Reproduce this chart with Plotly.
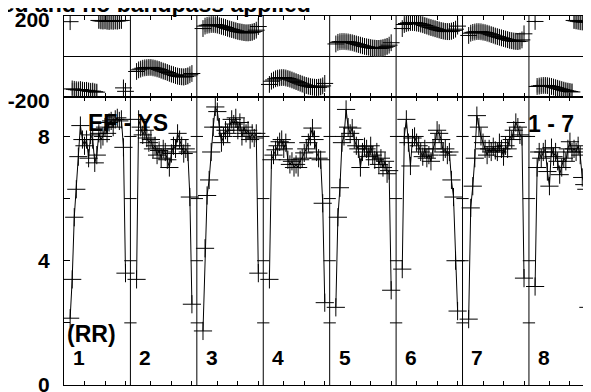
import plotly.graph_objects as go
from plotly.subplots import make_subplots

# ---------------- data ----------------
CHANNELS = list(range(3, 31))          # 28 channels per IF panel
PANEL_W = 32.4                         # channel span of one panel on the shared axis
PANEL_LABELS = ["1", "2", "3", "4", "5", "6", "7", "8"]

AMP_1 = [2.15, 3.4, 5.4, 6.3, 7.35, 8.35, 7.9, 7.7, 7.9, 7.3, 8.05, 7.9, 7.15, 7.4,
         8.1, 7.9, 8.0, 8.3, 8.1, 8.45, 8.5, 8.3, 8.55, 8.6, 8.5, 8.55, 7.65, 3.6]
AMP_2 = [3.4, 8.55, 8.3, 8.05, 8.2, 7.95, 7.8, 7.9, 7.6, 7.7, 7.4, 7.55, 7.3, 7.6,
         7.5, 7.25, 7.0, 7.45, 7.7, 7.6, 8.1, 7.9, 7.7, 7.45, 7.6, 7.5, 6.05, 2.6]
AMP_3 = [1.74, 4.4, 6.1, 6.6, 7.5, 8.3, 8.95, 8.8, 8.3, 7.8, 8.0, 8.2, 8.1, 8.3,
         8.55, 8.4, 8.6, 8.2, 8.45, 8.0, 8.3, 8.1, 8.2, 7.9, 8.1, 7.95, 8.1, 3.6]
AMP_4 = [3.4, 7.25, 7.4, 7.57, 7.7, 7.83, 7.9, 7.6, 7.8, 7.25, 7.1, 7.2, 7.0, 7.1,
         7.0, 7.25, 7.3, 7.47, 7.6, 7.8, 8.0, 8.27, 7.9, 7.5, 7.3, 7.25, 5.85, 2.65]
AMP_5 = [2.5, 5.4, 6.35, 7.8, 8.0, 8.87, 8.3, 8.1, 8.27, 7.9, 7.7, 7.6, 7.0, 7.5,
         7.67, 7.6, 7.35, 7.7, 7.4, 7.25, 7.5, 7.1, 7.3, 7.0, 7.2, 6.8, 6.9, 3.05]
AMP_6 = [3.73, 8.0, 8.55, 7.8, 7.05, 7.95, 8.0, 7.8, 7.7, 7.5, 7.35, 7.6, 7.3, 7.4,
         7.2, 7.6, 7.8, 8.2, 8.1, 7.9, 7.5, 7.6, 7.4, 7.5, 6.6, 6.05, 4.0, 2.38]
AMP_7 = [2.12, 5.7, 6.4, 7.3, 8.67, 8.3, 8.0, 7.8, 7.6, 7.4, 7.6, 7.5, 7.67, 7.55,
         7.5, 7.8, 7.6, 7.35, 7.7, 7.6, 8.0, 7.9, 8.2, 8.45, 8.3, 8.05, 8.0, 3.44]
AMP_8 = [3.17, 7.0, 7.5, 7.3, 7.5, 7.6, 6.87, 6.4, 7.64, 7.35, 7.5, 7.2, 6.77, 7.0,
         7.3, 7.2, 7.6, 7.83, 7.5, 7.6, 7.5, 7.7, 7.4, 6.68, 6.45, 6.3, 2.5, None]

PHASE_1 = [172, -160, -162, -164, -165, -163, -166, -168, -167, -170, -172, -171, -174, -176,
           178, 176, 175, 176, 174, 173, 175, 174, 176, 175, 177, 178, -155, -172]
PHASE_2 = [-74, -66, -62, -58, -56, -55, -54, -54, -56, -58, -61, -64, -68, -72,
           -75, -79, -83, -87, -90, -94, -97, -99, -100, -101, -99, -96, -90, -84]
PHASE_3 = [138, 150, 154, 156, 158, 158, 157, 155, 152, 149, 146, 143, 139, 136,
           133, 130, 127, 124, 122, 120, 118, 117, 117, 118, 120, 124, 130, 148]
PHASE_4 = [-138, -122, -116, -110, -107, -105, -104, -104, -106, -109, -112, -116, -120, -124,
           -128, -132, -136, -140, -143, -146, -149, -151, -152, -153, -152, -150, -145, -133]
PHASE_5 = [62, 70, 73, 74, 74, 73, 72, 70, 68, 65, 62, 59, 56, 53,
           50, 48, 46, 44, 42, 41, 40, 40, 41, 43, 46, 50, 56, 68]
PHASE_6 = [138, 158, 163, 166, 168, 168, 167, 165, 163, 160, 157, 153, 150, 146,
           143, 140, 137, 134, 131, 128, 126, 124, 123, 123, 125, 129, 135, 150]
PHASE_7 = [104, 115, 119, 121, 123, 123, 122, 120, 118, 115, 112, 108, 105, 101,
           98, 95, 92, 89, 86, 83, 80, 78, 76, 75, 74, 76, 82, 112]
PHASE_8 = [173, -148, -146, -144, -143, -143, -144, -146, -148, -151, -154, -157, -160, -163,
           -166, -169, -171, -173, -175, 178, 176, 174, 172, 171, 170, 170, 171, 172]
PHASE_ERR = [6, 30, 32, 33, 34, 35, 35, 36, 36, 37, 37, 38, 38, 38,
             39, 39, 40, 40, 40, 41, 41, 41, 42, 42, 42, 40, 30, 8]

AMPS = [AMP_1, AMP_2, AMP_3, AMP_4, AMP_5, AMP_6, AMP_7, AMP_8]
PHASES = [PHASE_1, PHASE_2, PHASE_3, PHASE_4, PHASE_5, PHASE_6, PHASE_7, PHASE_8]

TITLE = "Calibrated and no bandpass applied"
BASELINE = "EF - YS"
TIMERANGE = "1 - 7"
POL = "(RR)"

# ---------------- figure ----------------
FONT = "Liberation Sans, Arial, Helvetica, sans-serif"
W, H = 583, 384          # page body has an 8px margin inside the 591x392 window
ML = 56
plot_w = W - ML
PX_PER_CH = 2.05
x_max = plot_w / PX_PER_CH

fig = make_subplots(rows=2, cols=1, shared_xaxes=False, vertical_spacing=0)

for p in range(len(AMPS)):
    xs = [p * PANEL_W + c for c in CHANNELS]
    fig.add_trace(go.Scatter(
        x=xs, y=PHASES[p], mode="markers",
        marker=dict(symbol="cross-thin", size=12, line=dict(color="black", width=1)),
        error_y=dict(type="data", array=PHASE_ERR, visible=True, color="#8a8a8a",
                     thickness=1, width=0),
        showlegend=False, hoverinfo="skip", cliponaxis=True), row=1, col=1)
    fig.add_trace(go.Scatter(
        x=xs, y=AMPS[p], mode="lines+markers",
        line=dict(color="black", width=1),
        marker=dict(symbol="cross-thin", size=13, line=dict(color="black", width=1)),
        showlegend=False, hoverinfo="skip", cliponaxis=True), row=2, col=1)

amp_bot = (H - 377) / H
mid = (H - 89) / H
ph_top = (H - 8) / H

tickvals_x = [p * PANEL_W + t for p in range(9) for t in (10, 20, 30)]
tickfont = dict(family=FONT, size=21, color="black", weight="bold")

xcommon = dict(range=[0, x_max], showgrid=False, zeroline=False, showline=True,
               linecolor="black", linewidth=1, mirror="ticks", ticks="inside",
               ticklen=4, tickcolor="black", tickvals=tickvals_x, showticklabels=False)
fig.update_xaxes(**xcommon, row=1, col=1)
fig.update_xaxes(**xcommon, row=2, col=1)

fig.update_yaxes(range=[-200, 200], domain=[mid, ph_top], showgrid=False,
                 zeroline=True, zerolinecolor="black", zerolinewidth=1,
                 showline=True, linecolor="black", linewidth=1, ticks="",
                 tickvals=[-200, 200], ticktext=["-200", "200"], tickfont=tickfont,
                 ticklabelstandoff=9, ticklabelshift=4, ticklabeloverflow="allow",
                 row=1, col=1)
fig.update_yaxes(range=[0, 9.27], domain=[amp_bot, mid], showgrid=False, zeroline=False,
                 showline=True, linecolor="black", linewidth=1, ticks="inside",
                 ticklen=6, tickcolor="black",
                 tickvals=[0, 2, 4, 6, 8], ticktext=["0", "", "4", "", "8"],
                 tickfont=tickfont, ticklabelstandoff=9, ticklabeloverflow="allow",
                 row=2, col=1)

shapes = []
for p in range(1, 9):
    xd = p * PANEL_W
    shapes.append(dict(type="line", xref="x2", yref="paper", x0=xd, x1=xd,
                       y0=amp_bot, y1=ph_top, line=dict(color="black", width=1)))
    for v in (2, 4, 6, 8):
        shapes.append(dict(type="line", xref="x2", yref="y2", x0=xd - 3, x1=xd + 3,
                           y0=v, y1=v, line=dict(color="black", width=1)))

lab_font = dict(family=FONT, size=23, color="black", weight="bold")
ann = []
ann.append(dict(text=TITLE, xref="paper", yref="paper", x=(305 - ML) / plot_w, y=1,
                xanchor="right", yanchor="middle", yshift=4, showarrow=False,
                font=dict(family=FONT, size=23, color="black", weight="bold")))
ann.append(dict(text=BASELINE, xref="x2", yref="y2", x=10.5, y=8.44,
                xanchor="left", yanchor="middle", showarrow=False, font=lab_font))
ann.append(dict(text=TIMERANGE, xref="x2", yref="y2", x=225.3, y=8.4,
                xanchor="left", yanchor="middle", showarrow=False, font=lab_font))
ann.append(dict(text=POL, xref="x2", yref="y2", x=0.6, y=1.64,
                xanchor="left", yanchor="middle", showarrow=False, font=lab_font))
for p, lab in enumerate(PANEL_LABELS):
    ann.append(dict(text=lab, xref="x2", yref="y2", x=p * PANEL_W + 7.3, y=0.9,
                    xanchor="center", yanchor="middle", showarrow=False,
                    font=dict(family=FONT, size=21, color="black", weight="bold")))

fig.update_layout(width=W, height=H, margin=dict(l=ML, r=0, t=0, b=0, autoexpand=False),
                  paper_bgcolor="white", plot_bgcolor="white",
                  shapes=shapes, annotations=ann, showlegend=False)

fig.write_html("out.html")
